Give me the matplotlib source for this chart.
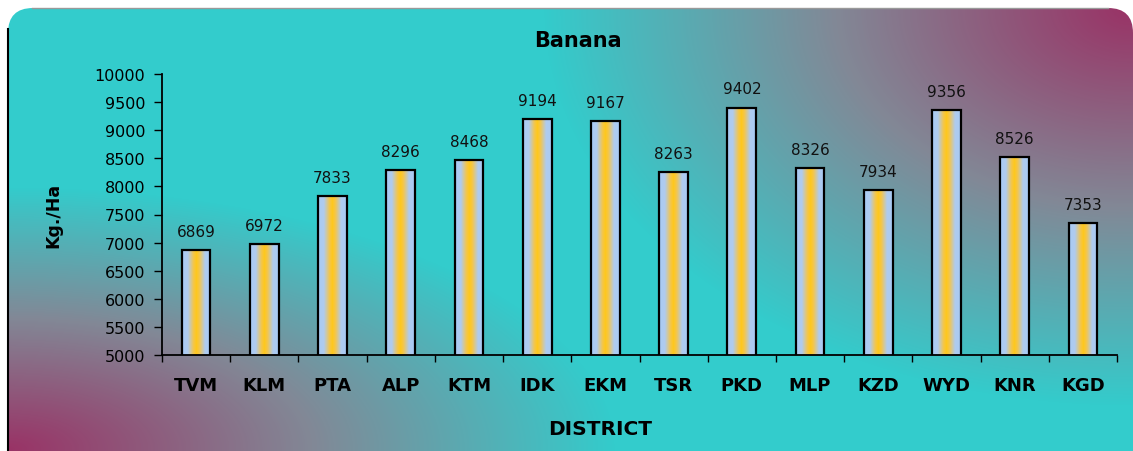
import numpy as np
import matplotlib.pyplot as plt
from matplotlib.colors import LinearSegmentedColormap
from matplotlib.patches import FancyBboxPatch

plt.rcParams['font.family'] = ['DejaVu Sans']

# 各区香蕉单产 (Kg./Ha)
districts = ['TVM', 'KLM', 'PTA', 'ALP', 'KTM', 'IDK', 'EKM', 'TSR', 'PKD', 'MLP', 'KZD', 'WYD', 'KNR', 'KGD']
yields = [6869, 6972, 7833, 8296, 8468, 9194, 9167, 8263, 9402, 8326, 7934, 9356, 8526, 7353]
yticks = [5000, 5500, 6000, 6500, 7000, 7500, 8000, 8500, 9000, 9500, 10000]

W, H = 1133, 452
fig = plt.figure(figsize=(W / 100, H / 100), dpi=100)
fig.patch.set_facecolor('white')

# 背景：圆角框，左下和右上两角为紫红色，向中间过渡为青色
bg = fig.add_axes([0, 0, 1, 1], zorder=0)
bg.set_xlim(0, W)
bg.set_ylim(H, 0)
bg.axis('off')
bg_cmap = LinearSegmentedColormap.from_list(
    'bg', [(0, '#993366'), (0.5, '#828896'), (1, '#33cccc')])
px, py = np.meshgrid(np.arange(W) + 0.5, np.arange(H) + 0.5)
r1 = np.hypot((px - 8) / 290, (py - 450) / 125)
r2 = np.hypot((px - 1130) / 280, (py - 9) / 190)
r = np.clip(np.minimum(r1, r2) / 2.1, 0, 1)
frame = FancyBboxPatch((8, 9), 1125, 480, boxstyle='round,pad=0,rounding_size=25',
                       facecolor='none', edgecolor='none')
bg.add_patch(frame)
im = bg.imshow(r, cmap=bg_cmap, extent=[0, W, H, 0], aspect='auto', vmin=0, vmax=1)
im.set_clip_path(frame)
bg.plot([8, 8], [30, 452], color='black', lw=1.5)
bg.plot([32, 1108], [9, 9], color='#999999', lw=1)

ax = fig.add_axes([162 / W, 1 - 356 / H, (1117 - 162) / W, (356 - 75) / H], zorder=1)
ax.patch.set_alpha(0)

x = np.arange(len(districts))
bars = ax.bar(x, yields, width=0.42, facecolor='none', edgecolor='black',
              linewidth=1.6, zorder=3)

# 柱内横向渐变：浅蓝-金黄-浅蓝
bar_cmap = LinearSegmentedColormap.from_list(
    'bar', [(0, '#a8ccf6'), (0.2, '#b0cbee'), (0.4, '#f4c64a'), (0.5, '#ffc81a'),
            (0.6, '#f4c64a'), (0.8, '#b0cbee'), (1, '#a8ccf6')])
grad = np.linspace(0, 1, 100).reshape(1, -1)
for b in bars:
    g = ax.imshow(grad, cmap=bar_cmap, aspect='auto', zorder=2,
                  extent=[b.get_x(), b.get_x() + b.get_width(), 5000, b.get_height()])
    g.set_clip_path(b)
    ax.annotate(f'{b.get_height():.0f}', (b.get_x() + b.get_width() / 2, b.get_height()),
                xytext=(0, 8), textcoords='offset points',
                ha='center', va='bottom', fontsize=11, color='#111111')

ax.set_xlim(-0.5, len(districts) - 0.5)
ax.set_ylim(5000, 10000)
ax.set_yticks(yticks)
ax.set_yticklabels([str(v) for v in yticks], fontsize=11.5)
ax.set_xticks(x)
ax.set_xticklabels(districts, fontsize=13, fontweight='bold')
ax.set_xticks(np.arange(len(districts) + 1) - 0.5, minor=True)
ax.tick_params(axis='x', which='major', length=0, pad=15)
ax.tick_params(axis='x', which='minor', length=5, width=1, direction='out')
ax.tick_params(axis='y', length=6, width=1, direction='out', pad=6)
for s in ['top', 'right']:
    ax.spines[s].set_visible(False)
for s in ['left', 'bottom']:
    ax.spines[s].set_linewidth(1.3)

ax.text(0.4356, 1.121, 'Banana', transform=ax.transAxes, ha='center', va='center',
        fontsize=15, fontweight='bold')
ax.set_xlabel('DISTRICT', fontsize=14.5, fontweight='bold')
ax.xaxis.set_label_coords(0.459, -0.228)
ax.set_ylabel('Kg./Ha', fontsize=12.5, fontweight='bold')
ax.yaxis.set_label_coords(-0.104, 0.5)

fig.savefig('out.png', dpi=100)
